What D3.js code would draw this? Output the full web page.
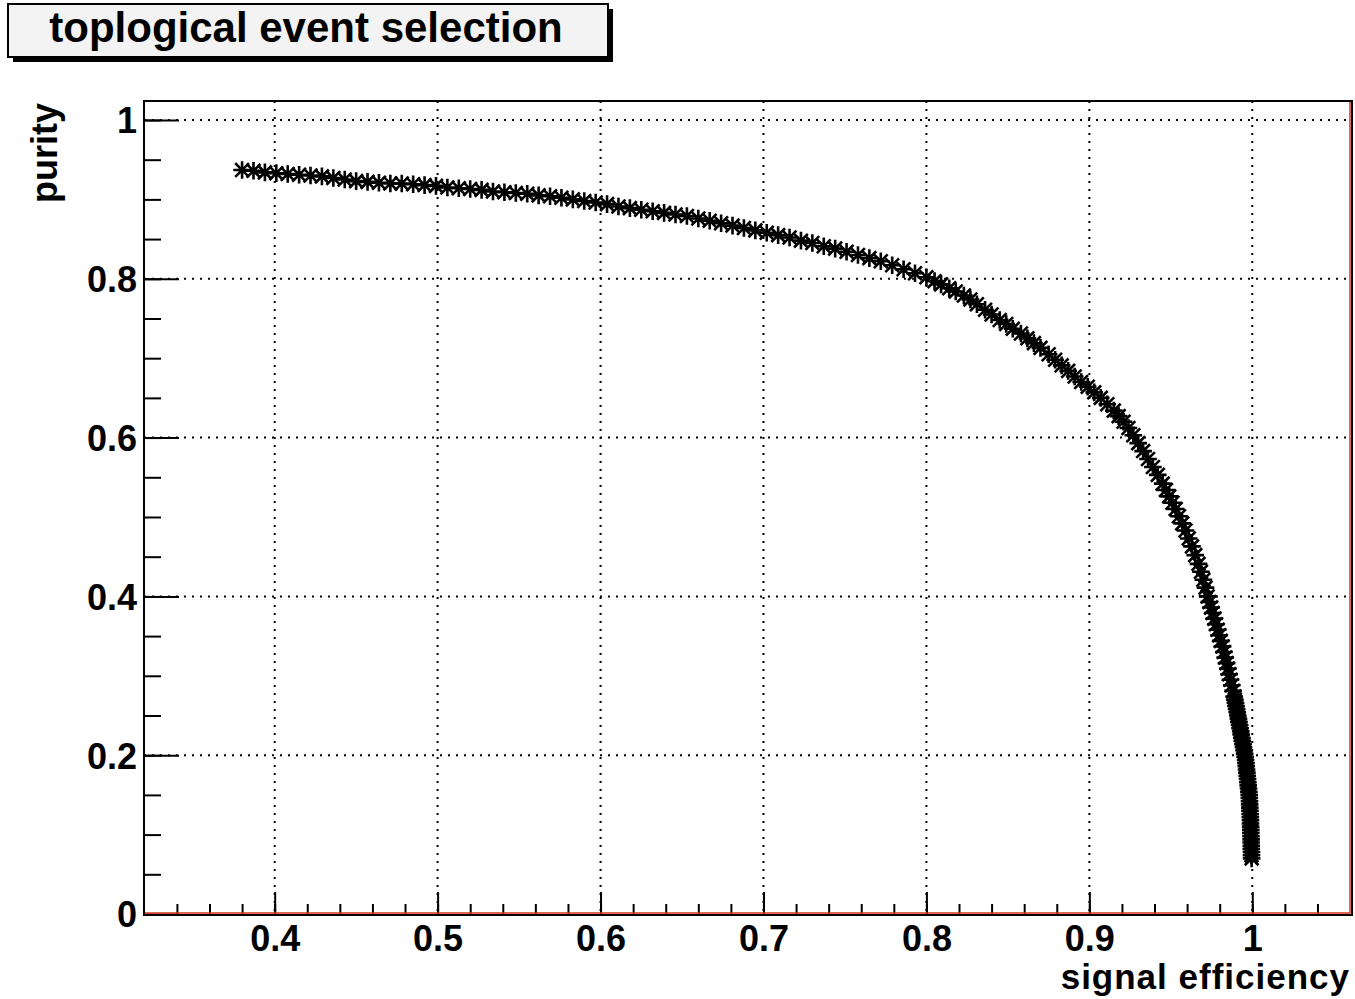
<!DOCTYPE html>
<html>
<head>
<meta charset="utf-8">
<script src="https://cdn.jsdelivr.net/npm/d3@7"></script>
<style>
  body { margin: 0; background: #fff; }
  svg { display: block; }
</style>
</head>
<body>
<div id="chart"></div>
<script>
// Values (signal efficiency vs purity)
const efficiency = [
  0.380, 0.387, 0.394, 0.401, 0.408, 0.415, 0.422, 0.429, 0.436, 0.443,
  0.450, 0.457, 0.464, 0.471, 0.478, 0.485, 0.492, 0.499, 0.506, 0.513,
  0.520, 0.527, 0.534, 0.541, 0.548, 0.555, 0.562, 0.569, 0.576, 0.583,
  0.590, 0.597, 0.604, 0.611, 0.618, 0.625, 0.632, 0.639, 0.646, 0.653,
  0.660, 0.667, 0.674, 0.681, 0.688, 0.695, 0.702, 0.709, 0.716, 0.723,
  0.730, 0.737, 0.744, 0.751, 0.758, 0.765, 0.772, 0.779, 0.786, 0.793,
  0.800, 0.805, 0.809, 0.814, 0.818, 0.823, 0.827, 0.831, 0.836, 0.840,
  0.845, 0.849, 0.853, 0.858, 0.862, 0.866, 0.870, 0.875, 0.879, 0.883,
  0.887, 0.891, 0.895, 0.899, 0.903, 0.907, 0.911, 0.915, 0.918, 0.921,
  0.924, 0.927, 0.930, 0.933, 0.936, 0.939, 0.942, 0.945, 0.947, 0.949,
  0.951, 0.953, 0.955, 0.957, 0.959, 0.961, 0.963, 0.965, 0.967, 0.9685,
  0.970, 0.9713, 0.9726, 0.9737, 0.9747, 0.9757, 0.9767, 0.9777, 0.9787, 0.9797,
  0.9807, 0.9817, 0.9826, 0.9834, 0.9842, 0.9850, 0.9858, 0.9866, 0.9874, 0.9882,
  0.9889, 0.9893, 0.9897, 0.9900, 0.9904, 0.9908, 0.9911, 0.9915, 0.9918, 0.9922,
  0.9925, 0.9929, 0.9932, 0.9936, 0.9939, 0.9943, 0.9946, 0.9950, 0.9953, 0.9956,
  0.9959, 0.9961, 0.9963, 0.9965, 0.9967, 0.9969, 0.9971, 0.9973, 0.9975, 0.9977,
  0.9979, 0.9981, 0.9982, 0.9983, 0.9984, 0.9985, 0.9986, 0.9987, 0.9988, 0.9989,
  0.9989, 0.9990, 0.9991, 0.9991, 0.9992, 0.9993, 0.9993, 0.9994, 0.9994, 0.9995,
  0.9995, 0.9996
];
const purity = [
  0.937, 0.936, 0.934, 0.933, 0.932, 0.931, 0.930, 0.929, 0.927, 0.925,
  0.923, 0.922, 0.921, 0.920, 0.920, 0.919, 0.918, 0.917, 0.915, 0.914,
  0.913, 0.912, 0.910, 0.909, 0.908, 0.907, 0.905, 0.904, 0.902, 0.900,
  0.898, 0.896, 0.894, 0.891, 0.889, 0.887, 0.885, 0.883, 0.881, 0.879,
  0.876, 0.873, 0.870, 0.867, 0.864, 0.861, 0.858, 0.855, 0.852, 0.848,
  0.845, 0.841, 0.838, 0.834, 0.830, 0.826, 0.822, 0.817, 0.812, 0.807,
  0.802, 0.797, 0.793, 0.788, 0.784, 0.779, 0.774, 0.768, 0.761, 0.755,
  0.748, 0.743, 0.737, 0.731, 0.725, 0.719, 0.713, 0.705, 0.698, 0.691,
  0.684, 0.677, 0.670, 0.664, 0.657, 0.650, 0.642, 0.634, 0.627, 0.620,
  0.612, 0.603, 0.593, 0.583, 0.573, 0.563, 0.553, 0.542, 0.534, 0.526,
  0.518, 0.510, 0.501, 0.492, 0.483, 0.473, 0.463, 0.452, 0.441, 0.431,
  0.421, 0.411, 0.400, 0.393, 0.386, 0.379, 0.372, 0.365, 0.358, 0.351,
  0.344, 0.337, 0.330, 0.323, 0.316, 0.309, 0.302, 0.295, 0.288, 0.281,
  0.274, 0.270, 0.266, 0.262, 0.258, 0.254, 0.250, 0.246, 0.242, 0.238,
  0.234, 0.230, 0.226, 0.222, 0.218, 0.214, 0.210, 0.206, 0.202, 0.198,
  0.194, 0.190, 0.186, 0.182, 0.178, 0.174, 0.170, 0.166, 0.162, 0.158,
  0.154, 0.150, 0.146, 0.142, 0.138, 0.134, 0.130, 0.126, 0.122, 0.118,
  0.114, 0.110, 0.106, 0.102, 0.098, 0.094, 0.090, 0.086, 0.082, 0.078,
  0.074, 0.070
];

const xMajorTicks = [0.4, 0.5, 0.6, 0.7, 0.8, 0.9, 1];
const xMinorTicks = d3.range(0.34, 1.06, 0.02);
const yMajorTicks = [0, 0.2, 0.4, 0.6, 0.8, 1];
const yMinorTicks = d3.range(0.05, 1.02, 0.05);

const titleText = 'toplogical event selection';
const xLabel = 'signal efficiency';
const yLabel = 'purity';

const W = 1355, H = 999;
const frame = { left: 144, right: 1352, top: 101, bottom: 914 };
const font = "'Liberation Sans', Arial, Helvetica, sans-serif";

const svg = d3.select('#chart')
  .append('svg')
  .attr('width', W)
  .attr('height', H)
  .attr('font-family', font)
  .attr('font-weight', 'bold');

svg.append('rect').attr('width', W).attr('height', H).attr('fill', '#fff');

// Scales
const x = d3.scaleLinear().domain([0.3198, 1.0612]).range([frame.left, frame.right]);
const y = d3.scaleLinear().domain([0, 1.0239]).range([frame.bottom, frame.top]);

// Grid (dotted)
const grid = svg.append('g')
  .attr('stroke', '#000')
  .attr('stroke-width', 2)
  .attr('stroke-dasharray', '2 6');

grid.selectAll('.vgrid')
  .data(xMajorTicks)
  .enter().append('line')
  .attr('class', 'vgrid')
  .attr('x1', d => x(d)).attr('x2', d => x(d))
  .attr('y1', frame.top).attr('y2', frame.bottom);

grid.selectAll('.hgrid')
  .data(yMajorTicks.filter(d => d > 0))
  .enter().append('line')
  .attr('class', 'hgrid')
  .attr('x1', frame.left).attr('x2', frame.right)
  .attr('y1', d => y(d)).attr('y2', d => y(d));

// Axes: ticks point into the frame
function styleAxis(g) {
  g.select('.domain').remove();
  g.selectAll('line').attr('stroke-width', 2);
}

svg.append('g')
  .attr('transform', `translate(0, ${frame.bottom})`)
  .call(d3.axisBottom(x).tickValues(xMinorTicks).tickSize(-10).tickFormat(''))
  .call(styleAxis);

const xAxis = svg.append('g')
  .attr('transform', `translate(0, ${frame.bottom})`)
  .call(d3.axisBottom(x).tickValues(xMajorTicks).tickSize(-22).tickFormat(d3.format('~g')))
  .call(styleAxis);
xAxis.selectAll('text')
  .attr('y', 37).attr('dy', 0)
  .attr('font-size', 36).attr('font-family', font).attr('font-weight', 'bold')
  .attr('fill', '#000');

svg.append('g')
  .attr('transform', `translate(${frame.left}, 0)`)
  .call(d3.axisLeft(y).tickValues(yMinorTicks).tickSize(-17).tickFormat(''))
  .call(styleAxis);

const yAxis = svg.append('g')
  .attr('transform', `translate(${frame.left}, 0)`)
  .call(d3.axisLeft(y).tickValues(yMajorTicks).tickSize(-35).tickFormat(d3.format('~g')))
  .call(styleAxis);
yAxis.selectAll('text')
  .attr('x', -7).attr('dy', '0.36em')
  .attr('font-size', 36).attr('font-family', font).attr('font-weight', 'bold')
  .attr('fill', '#000');

// Frame
svg.append('rect')
  .attr('x', frame.left).attr('y', frame.top)
  .attr('width', frame.right - frame.left)
  .attr('height', frame.bottom - frame.top + 1)
  .attr('fill', 'none')
  .attr('stroke', '#000')
  .attr('stroke-width', 2);

// red lines along bottom and right edge
svg.append('path')
  .attr('d', `M${frame.left + 1},${frame.bottom - 1} H${frame.right - 2} V${frame.top + 1}`)
  .attr('fill', 'none')
  .attr('stroke', '#d9341c')
  .attr('stroke-width', 1.5);

// Markers (ROOT style asterisk)
const asterisk = {
  draw(ctx, size) {
    const r = Math.sqrt(size) / 2;
    const d = r * 0.78;
    ctx.moveTo(-r, 0); ctx.lineTo(r, 0);
    ctx.moveTo(0, -r); ctx.lineTo(0, r);
    ctx.moveTo(-d, -d); ctx.lineTo(d, d);
    ctx.moveTo(-d, d); ctx.lineTo(d, -d);
  }
};

const points = efficiency.map((e, i) => ({ eff: e, pur: purity[i] }));

svg.append('g')
  .selectAll('path')
  .data(points)
  .enter().append('path')
  .attr('transform', d => `translate(${x(d.eff)}, ${y(d.pur)})`)
  .attr('d', d3.symbol().type(asterisk).size(310))
  .attr('fill', 'none')
  .attr('stroke', '#000')
  .attr('stroke-width', 2.6);

// Axis titles
svg.append('text')
  .attr('x', 1350)
  .attr('y', 989)
  .attr('text-anchor', 'end')
  .attr('font-size', 35)
  .attr('letter-spacing', 1)
  .text(xLabel);

svg.append('text')
  .attr('transform', 'translate(57, 103) rotate(-90)')
  .attr('text-anchor', 'end')
  .attr('font-size', 36)
  .text(yLabel);

// Title box with shadow
const title = svg.append('g');
title.append('rect')
  .attr('x', 13).attr('y', 9)
  .attr('width', 600).attr('height', 53)
  .attr('fill', '#000');
title.append('rect')
  .attr('x', 8).attr('y', 4)
  .attr('width', 600).attr('height', 53)
  .attr('fill', '#f3f3f3')
  .attr('stroke', '#000')
  .attr('stroke-width', 2);
title.append('text')
  .attr('x', 306)
  .attr('y', 42)
  .attr('text-anchor', 'middle')
  .attr('font-size', 42)
  .text(titleText);
</script>
</body>
</html>
